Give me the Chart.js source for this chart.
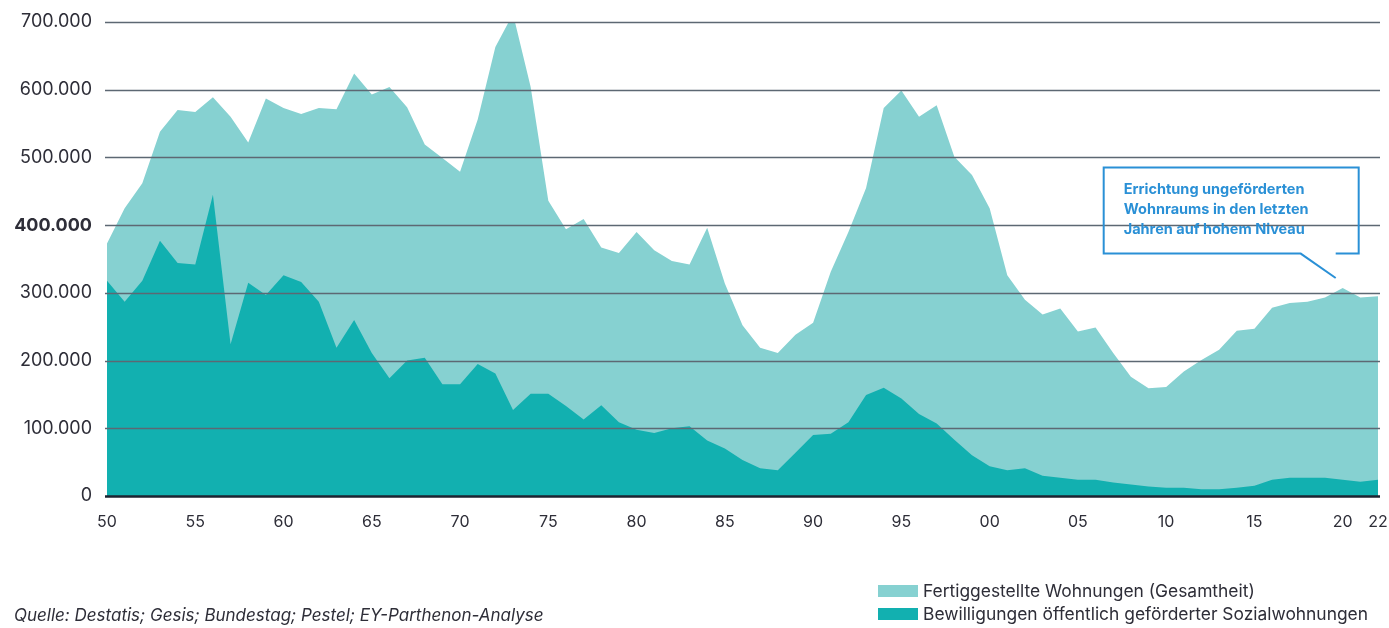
<!DOCTYPE html>
<html>
<head>
<meta charset="utf-8">
<script src="https://cdn.jsdelivr.net/npm/chart.js@4.4.0/dist/chart.umd.min.js"></script>
<style>
  body { margin: 0; background: #fff; font-family: Inter, "Noto Sans", sans-serif; }
  #wrap { position: relative; width: 1389px; height: 628px; }
  #chart { position: absolute; left: 0; top: 0; }
  .legend { position: absolute; left: 878px; top: 579px; font-size: 17.4px; color: #2e2e38; }
  .legend div { display: flex; align-items: center; height: 23px; }
  .legend span.sw { display: inline-block; width: 40px; height: 12px; margin-right: 5px; }
  .source { position: absolute; left: 14px; top: 605px; font-size: 17px; font-style: italic; color: #2e2e38; }
</style>
</head>
<body>
<div id="wrap">
  <canvas id="chart" width="1389" height="628"></canvas>
  <div class="legend">
    <div><span class="sw" style="background:#86d1d1"></span>Fertiggestellte Wohnungen (Gesamtheit)</div>
    <div><span class="sw" style="background:#12b0b0"></span>Bewilligungen öffentlich geförderter Sozialwohnungen</div>
  </div>
  <div class="source">Quelle: Destatis; Gesis; Bundestag; Pestel; EY-Parthenon-Analyse</div>
</div>
<script>
const jahre = [];
for (let j = 1950; j <= 2022; j++) jahre.push(j);

// Fertiggestellte Wohnungen (Gesamtheit), 1950-2022
const fertiggestellt = [
  373000, 425000, 462000, 538000, 570000, 567000, 589000, 560000, 522000, 587000,
  573000, 564000, 573000, 571000, 624000, 593000, 604000, 574000, 519000, 499000,
  479000, 556000, 663000, 712000, 604000, 436000, 394000, 409000, 367000, 359000,
  390000, 363000, 347000, 342000, 396000, 314000, 252000, 219000, 211000, 238000,
  256000, 331000, 390000, 455000, 573000, 599000, 560000, 577000, 501000, 474000,
  425000, 326000, 290000, 268000, 277000, 243000, 249000, 211000, 176000, 159000,
  161000, 184000, 201000, 216000, 244000, 247000, 278000, 285000, 287000, 293000,
  307000, 293000, 295000
];

// Bewilligungen öffentlich geförderter Sozialwohnungen, 1950-2022
const sozialwohnungen = [
  318000, 287000, 318000, 377000, 344000, 342000, 445000, 224000, 315000, 297000,
  326000, 316000, 287000, 219000, 260000, 211000, 174000, 200000, 204000, 165000,
  165000, 195000, 181000, 127000, 151000, 151000, 133000, 113000, 134000, 109000,
  98000, 93000, 100000, 103000, 82000, 70000, 53000, 41000, 38000, 64000,
  90000, 92000, 109000, 149000, 160000, 144000, 121000, 107000, 83000, 60000,
  44000, 38000, 41000, 30000, 27000, 24000, 24000, 20000, 17000, 14000,
  12000, 12000, 10000, 10000, 12000, 15000, 24000, 27000, 27000, 27000,
  24000, 21000, 24000
];

const yTicks = [0, 100000, 200000, 300000, 400000, 500000, 600000, 700000];
const hinweis = ['Errichtung ungeförderten', 'Wohnraums in den letzten', 'Jahren auf hohem Niveau'];

function fmt(v) {
  return v === 0 ? '0' : v.toLocaleString('de-DE');
}

const gridOnTop = {
  id: 'gridOnTop',
  afterDatasetsDraw(chart) {
    const { ctx, chartArea, scales: { y } } = chart;
    ctx.save();
    yTicks.forEach(v => {
      const py = Math.round(y.getPixelForValue(v)) + 0.5;
      ctx.beginPath();
      ctx.strokeStyle = v === 0 ? '#1c2331' : '#5d6873';
      ctx.lineWidth = v === 0 ? 2.5 : 1.5;
      ctx.moveTo(chartArea.left - 2, py);
      ctx.lineTo(chartArea.right + 2, py);
      ctx.stroke();
    });
    ctx.restore();
  }
};

const callout = {
  id: 'callout',
  afterDraw(chart) {
    const { ctx, scales: { x, y } } = chart;
    const tipX = x.getPixelForValue(jahre.indexOf(2020)) - 7;
    const tipY = y.getPixelForValue(322000);
    const right = tipX + 23;
    const left = right - 255;
    const top = y.getPixelForValue(485000);
    const bottom = y.getPixelForValue(358000);
    ctx.save();
    ctx.strokeStyle = '#2a90d6';
    ctx.lineWidth = 2;
    ctx.beginPath();
    ctx.moveTo(tipX, bottom);
    ctx.lineTo(right, bottom);
    ctx.lineTo(right, top);
    ctx.lineTo(left, top);
    ctx.lineTo(left, bottom);
    ctx.lineTo(tipX - 35, bottom);
    ctx.lineTo(tipX, tipY);
    ctx.stroke();
    ctx.fillStyle = '#2a90d6';
    ctx.font = 'bold 14.5px Inter, sans-serif';
    ctx.textBaseline = 'middle';
    hinweis.forEach((t, i) => ctx.fillText(t, left + 20, top + 22 + i * 20));
    ctx.restore();
  }
};

new Chart(document.getElementById('chart'), {
  type: 'line',
  data: {
    labels: jahre,
    datasets: [
      {
        label: 'Bewilligungen öffentlich geförderter Sozialwohnungen',
        data: sozialwohnungen,
        backgroundColor: '#12b0b0',
        borderWidth: 0,
        pointRadius: 0,
        fill: 'origin',
        order: 0
      },
      {
        label: 'Fertiggestellte Wohnungen (Gesamtheit)',
        data: fertiggestellt,
        backgroundColor: '#86d1d1',
        borderWidth: 0,
        pointRadius: 0,
        fill: 'origin',
        order: 1
      }
    ]
  },
  options: {
    responsive: false,
    animation: false,
    layout: { padding: { left: 0, top: 22, right: 11, bottom: 92 } },
    plugins: { legend: { display: false }, tooltip: { enabled: false } },
    scales: {
      x: {
        offset: false,
        grid: { display: false, drawTicks: false },
        border: { display: false },
        afterFit: s => { s.height = 40; s.paddingLeft = 0; s.paddingRight = 0; },
        ticks: {
          autoSkip: false,
          maxRotation: 0,
          padding: 17,
          color: '#2e2e38',
          font: { family: 'Inter', size: 16 },
          callback: function (v, i) {
            const j = jahre[i];
            return (j % 5 === 0 || j === 2022) ? String(j).slice(2) : '';
          }
        }
      },
      y: {
        min: 0,
        max: 700000,
        grid: { display: false, drawTicks: false },
        border: { display: false },
        afterFit: s => { s.width = 107; s.paddingTop = 0; s.paddingBottom = 0; },
        afterBuildTicks: s => { s.ticks = yTicks.map(v => ({ value: v })); },
        ticks: {
          padding: 15,
          color: '#2e2e38',
          font: ctx => ({ family: 'Inter', size: 18, weight: ctx.tick && ctx.tick.value === 400000 ? 'bold' : 'normal' }),
          callback: v => fmt(v)
        }
      }
    }
  },
  plugins: [gridOnTop, callout]
});
</script>
</body>
</html>
